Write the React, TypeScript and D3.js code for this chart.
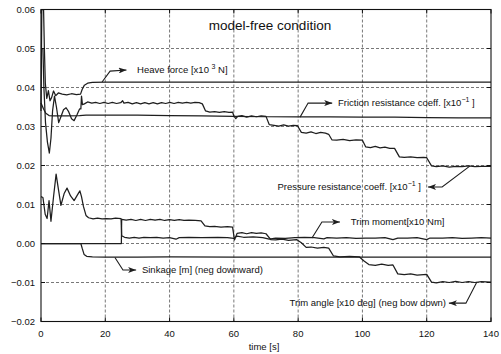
import * as d3 from "d3";
import React from "react";

type Pt = [number, number];

const xTicks = [0, 20, 40, 60, 80, 100, 120, 140];
const yTicks = [-0.02, -0.01, 0, 0.01, 0.02, 0.03, 0.04, 0.05, 0.06];

const heaveForce: Pt[] = [
  [0, 0.034], [0.25, 0.06], [0.8, 0.06], [1.05, 0.05], [1.35, 0.041], [1.8, 0.0372],
  [2.3, 0.0392], [2.8, 0.0366], [3.3, 0.0374], [3.9, 0.0391], [4.6, 0.0379], [5.4, 0.0386],
  [6.6, 0.0383], [8, 0.0381], [9.5, 0.0384], [11, 0.0382], [12.3, 0.0383], [12.8, 0.0395],
  [13.5, 0.0406], [14.5, 0.0411], [16, 0.0413], [20, 0.0414], [40, 0.0414], [60, 0.0414],
  [80, 0.0414], [100, 0.0414], [120, 0.0414], [140, 0.0414],
];

const frictionCoeff: Pt[] = [
  [0, 0.036], [0.8, 0.0345], [1.5, 0.0334], [2.5, 0.0328], [4, 0.0327], [8, 0.0327],
  [12, 0.0328], [14, 0.0329], [20, 0.0329], [30, 0.0329], [40, 0.0328], [50, 0.0327],
  [60, 0.0326], [70, 0.0325], [80, 0.0325], [90, 0.0325], [100, 0.0324], [110, 0.0324],
  [120, 0.0323], [130, 0.0322], [140, 0.0322],
];

const pressureCoeff: Pt[] = [
  [0, 0.05], [0.6, 0.05], [0.9, 0.04], [1.4, 0.031], [2, 0.026], [2.6, 0.0232], [3.1, 0.027],
  [3.6, 0.034], [4.2, 0.0378], [4.8, 0.035], [5.5, 0.031], [6.2, 0.0325], [7, 0.0343],
  [7.8, 0.0348], [8.6, 0.0338], [9.5, 0.032], [10.3, 0.0315], [11.2, 0.033], [12, 0.0345],
  [12.4, 0.0345], [12.6, 0.0378], [12.9, 0.0356], [13.5, 0.0358], [14.5, 0.0363],
  [15.8, 0.036], [17, 0.0362], [18.3, 0.0359], [19.6, 0.0362], [20.9, 0.0359], [22.2, 0.0362],
  [23.5, 0.0359], [24.8, 0.0361], [25.4, 0.0366], [25.8, 0.036], [27.1, 0.0362], [28.4, 0.0358],
  [29.7, 0.0361], [31, 0.0358], [32.3, 0.0361], [33.6, 0.0358], [34.9, 0.0361], [36.2, 0.0358],
  [37.5, 0.0361], [38.8, 0.0359], [40.1, 0.0362], [41.4, 0.0359], [42.7, 0.0362], [44, 0.036],
  [45.3, 0.0362], [46.6, 0.036], [47.9, 0.0362], [49.2, 0.0361], [50.2, 0.0358], [51.2, 0.034],
  [52.5, 0.0337], [54, 0.0338], [55.5, 0.0336], [57, 0.0338], [58.5, 0.0336], [59.6, 0.0337],
  [60, 0.0327], [60.6, 0.032], [61.2, 0.0326], [62.5, 0.0328], [64, 0.0324], [65.5, 0.0327],
  [67, 0.0325], [68.5, 0.0327], [70, 0.0326], [71, 0.0305], [72.5, 0.0303], [74, 0.0301],
  [75.5, 0.0304], [77, 0.0301], [78.5, 0.0303], [79.8, 0.0302], [81, 0.0285], [82.5, 0.0283],
  [84, 0.0286], [85.5, 0.0282], [87, 0.0285], [88.5, 0.0283], [89.5, 0.028], [90.5, 0.0266],
  [92, 0.0265], [94, 0.0267], [96, 0.0264], [98, 0.0266], [100, 0.0265], [101, 0.0248],
  [102.5, 0.0246], [104, 0.0249], [105.5, 0.0245], [107, 0.0247], [108.5, 0.0244], [110, 0.0244],
  [111.5, 0.0222], [113, 0.0221], [115, 0.0222], [117, 0.022], [119, 0.0221], [120, 0.022],
  [121.5, 0.0199], [123, 0.0197], [125, 0.0199], [127, 0.0196], [129, 0.0198], [131, 0.0197],
  [133, 0.0199], [135, 0.0197], [137, 0.0198], [140, 0.0198],
];

const trimMoment: Pt[] = [
  [0, 0.012], [0.6, 0.0118], [1.3, 0.0075], [1.9, 0.0064], [2.5, 0.011], [3.1, 0.0057],
  [3.9, 0.012], [4.7, 0.0178], [5.4, 0.014], [6.2, 0.0098], [7.2, 0.0128], [8.1, 0.0142],
  [9.2, 0.0122], [10.3, 0.011], [11.3, 0.0124], [12.1, 0.0135], [12.6, 0.012], [13.2, 0.0095],
  [14, 0.0072], [14.8, 0.0066], [16.2, 0.0063], [17.6, 0.0065], [19, 0.0063], [20.4, 0.0064],
  [21.8, 0.0063], [23.2, 0.0065], [24.9, 0.0064], [25.1, 0.002], [26, 0.0016], [27.5, 0.0014],
  [29, 0.0016], [30.5, 0.0014], [32, 0.0016], [34, 0.0015], [36, 0.0016], [38, 0.0014],
  [40, 0.0015], [42, 0.0011], [43, 0.0015], [46, 0.0016], [50, 0.0015], [55, 0.0016],
  [58, 0.0015], [60, 0.0013], [61, 0.0019], [63, 0.0016], [66, 0.0017], [69, 0.0015],
  [71, 0.0011], [73, 0.0014], [76, 0.0013], [79, 0.0015], [82, 0.0016], [85, 0.0015],
  [88, 0.0012], [89, 0.0015], [92, 0.0014], [95, 0.0015], [98, 0.0013], [101, 0.0014],
  [104, 0.0014], [107, 0.0015], [109.5, 0.001], [111, 0.0014], [114, 0.0014], [117, 0.0015],
  [120, 0.001], [121, 0.0014], [125, 0.0014], [128, 0.0015], [131, 0.0013], [134, 0.0014],
  [137, 0.0015], [140, 0.0014],
];

const trimAngle: Pt[] = [
  [0, 0], [25, 0], [25.1, 0.0062], [26.5, 0.006], [28, 0.0062], [29.5, 0.0059], [31, 0.0062],
  [32.5, 0.0059], [34, 0.0062], [35.5, 0.006], [37, 0.0062], [38.5, 0.0059], [40, 0.0061],
  [41.5, 0.0059], [43, 0.0061], [44.5, 0.0059], [46, 0.006], [48, 0.0059], [49.8, 0.0058],
  [51, 0.0045], [52.5, 0.0043], [54, 0.0044], [56, 0.0042], [58, 0.0043], [59.6, 0.0042],
  [60.2, 0.0009], [61, 0.0026], [62.5, 0.0028], [64, 0.0025], [65.5, 0.0028], [67, 0.0026],
  [68.5, 0.0027], [70, 0.0025], [71.5, 0.001], [73, 0.0009], [75, 0.0011], [77, 0.0008],
  [79.5, 0.001], [81, 0.0002], [82.5, -0.001], [84, -0.0009], [86, -0.0012], [88, -0.001],
  [89.5, -0.0012], [91, -0.0032], [93, -0.0034], [96, -0.0033], [99, -0.0034], [100.5, -0.0045],
  [102, -0.0054], [104, -0.0056], [106, -0.0053], [108, -0.0056], [109.5, -0.0055],
  [111, -0.0078], [113, -0.008], [115, -0.0078], [117, -0.0081], [120, -0.0079],
  [121.5, -0.0099], [123, -0.0101], [125, -0.0098], [127, -0.01], [129, -0.0097], [131, -0.01],
  [133, -0.0098], [135, -0.01], [137, -0.0098], [140, -0.0099],
];

const sinkage: Pt[] = [
  [0, 0], [12.4, 0], [12.8, -0.0012], [13.4, -0.0028], [14.2, -0.0033], [16, -0.0034],
  [20, -0.0035], [30, -0.0035], [40, -0.0034], [60, -0.0035], [80, -0.0035], [100, -0.0035],
  [120, -0.0035], [140, -0.0035],
];

const seriesList = [heaveForce, frictionCoeff, pressureCoeff, trimMoment, trimAngle, sinkage];

// callout labels: text pieces [before, superscript, after], leader path, text anchor point
const callouts: { parts: string[]; path: Pt[]; at: Pt; anchor: "start" | "end" }[] = [
  { parts: ["Heave force [x10 ", "3", " N]"], path: [[19, 0.0414], [21.5, 0.0442], [26.6, 0.0445]], at: [29.9, 0.0445], anchor: "start" },
  { parts: ["Friction resistance coeff. [x10", "\u22121", " ]"], path: [[80.6, 0.0324], [83.1, 0.036], [90.6, 0.036]], at: [92.4, 0.036], anchor: "start" },
  { parts: ["Pressure resistance coeff. [x10", "\u22121", " ]"], path: [[133.5, 0.0199], [124.8, 0.0145], [120.4, 0.0145]], at: [118.2, 0.0145], anchor: "end" },
  { parts: ["Trim moment[x10 Nm]"], path: [[84.3, 0.0014], [87.4, 0.0055], [93, 0.0055]], at: [96.4, 0.0055], anchor: "start" },
  { parts: ["Trim angle [x10 deg] (neg bow down)"], path: [[135.6, -0.0099], [132.2, -0.0153], [126.9, -0.0153]], at: [126, -0.0153], anchor: "end" },
  { parts: ["Sinkage [m] (neg downward)"], path: [[23, -0.0036], [25.5, -0.0068], [29.6, -0.0068]], at: [31.4, -0.0068], anchor: "start" },
];

const W = 501;
const H = 354;
const ink = "#1e1e1e";
const font = "'Liberation Sans', Arial, Helvetica, sans-serif";

const App: React.FC = () => {
  const x = d3.scaleLinear().domain([0, 140]).range([41, 491]);
  const y = d3.scaleLinear().domain([-0.02, 0.06]).range([321.5, 9.5]);
  const line = d3.line<Pt>().x((d) => x(d[0])).y((d) => y(d[1]));
  const fmt = d3.format(".2f");
  const [x0, x1] = x.range();
  const [y0, y1] = y.range();

  return (
    <svg width={W} height={H} style={{ position: "absolute", left: 0, top: 0, background: "#fff" }} fontFamily={font}>
      <defs>
        <marker id="arr" viewBox="0 -3 8 6" refX={8} refY={0} markerWidth={8} markerHeight={6} markerUnits="userSpaceOnUse" orient="auto">
          <path d="M0,-3L8,0L0,3L2,0Z" fill={ink} />
        </marker>
      </defs>
      <rect x={0} y={0} width={W} height={H} fill="#fff" />
      {/* grid */}
      <g stroke="#555" strokeWidth={0.8} strokeDasharray="3,2">
        {xTicks.slice(1, -1).map((t) => (
          <line key={"gx" + t} x1={x(t)} x2={x(t)} y1={y1} y2={y0} />
        ))}
        {yTicks.slice(1, -1).map((t) => (
          <line key={"gy" + t} x1={x0} x2={x1} y1={y(t)} y2={y(t)} />
        ))}
      </g>
      {/* data */}
      <g fill="none" stroke={ink} strokeWidth={1.25} strokeLinejoin="round">
        {seriesList.map((s, i) => (
          <path key={i} d={line(s) || ""} />
        ))}
      </g>
      {/* frame and ticks */}
      <rect x={x0} y={y1} width={x1 - x0} height={y0 - y1} fill="none" stroke="#111" strokeWidth={1.1} />
      <g stroke="#111" strokeWidth={1}>
        {xTicks.map((t) => (
          <g key={"tx" + t}>
            <line x1={x(t)} x2={x(t)} y1={y0} y2={y0 - 4} />
            <line x1={x(t)} x2={x(t)} y1={y1} y2={y1 + 4} />
          </g>
        ))}
        {yTicks.map((t) => (
          <g key={"ty" + t}>
            <line x1={x0} x2={x0 + 4} y1={y(t)} y2={y(t)} />
            <line x1={x1} x2={x1 - 4} y1={y(t)} y2={y(t)} />
          </g>
        ))}
      </g>
      <g fontSize={9.5} fill="#111">
        {xTicks.map((t) => (
          <text key={"lx" + t} x={x(t)} y={y0 + 15.5} textAnchor="middle">{t}</text>
        ))}
        {yTicks.map((t) => (
          <text key={"ly" + t} x={35} y={y(t)} dy="0.35em" textAnchor="end">{fmt(t)}</text>
        ))}
        <text x={264} y={349.5} textAnchor="middle">time [s]</text>
      </g>
      <text x={270} y={29.5} textAnchor="middle" fontSize={13.5} fill="#111">model-free condition</text>
      {/* callouts */}
      {callouts.map((c, i) => (
        <g key={"c" + i}>
          <path d={line(c.path) || ""} fill="none" stroke={ink} strokeWidth={1.1} markerEnd="url(#arr)" />
          <text x={x(c.at[0])} y={y(c.at[1])} dy="0.35em" textAnchor={c.anchor} fontSize={9.5} fill="#111">
            {c.parts[0]}
            {c.parts.length > 1 && (
              <>
                <tspan dy={-4} fontSize={7}>{c.parts[1]}</tspan>
                <tspan dy={4}>{c.parts[2]}</tspan>
              </>
            )}
          </text>
        </g>
      ))}
    </svg>
  );
};

export default App;
